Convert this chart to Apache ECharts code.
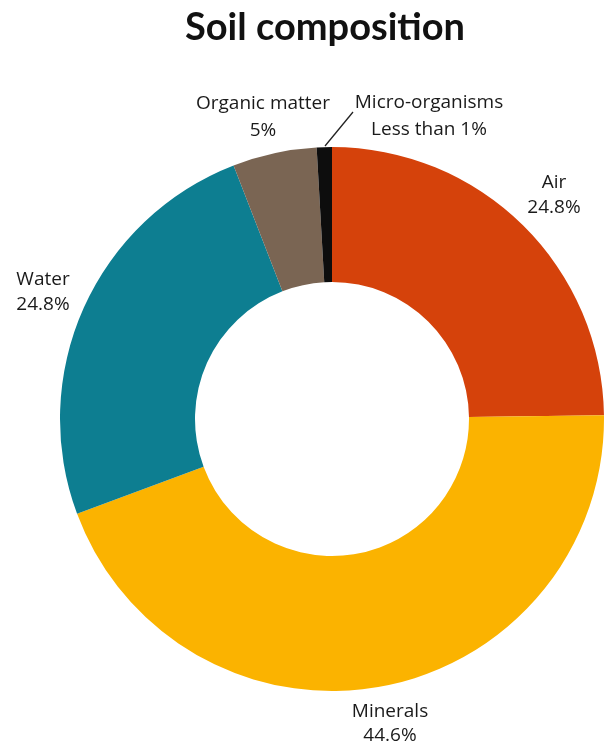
<!DOCTYPE html>
<html>
<head>
<meta charset="utf-8">
<script src="https://cdn.jsdelivr.net/npm/echarts@6/dist/echarts.min.js"></script>
<style>
  html, body { margin: 0; padding: 0; background: #fff; }
  #chart { width: 605px; height: 747px; }
</style>
</head>
<body>
<div id="chart"></div>
<script>
// Dados do gráfico
const categories = ['Air', 'Minerals', 'Water', 'Organic matter', 'Micro-organisms']
const shares = [24.8, 44.6, 24.8, 5, 0.9]
const valueLabels = ['24.8%', '44.6%', '24.8%', '5%', 'Less than 1%']
const sliceColors = ['#D5420B', '#FBB300', '#0D7E91', '#7A6553', '#0D0D0D']

// Posições dos rótulos (centro do bloco de texto)
const labelPos = [
  [554, 195],
  [390, 724],
  [43, 292],
  [263, 117],
  [429, 116]
]
const lineHeights = [25, 24, 25, 27, 27]

const chart = echarts.init(document.getElementById('chart'))

const option = {
  animation: false,
  title: {
    text: 'Soil composition',
    left: 320,
    textAlign: 'center',
    top: 4,
    textStyle: {
      fontFamily: 'Lato',
      fontWeight: 'bold',
      fontSize: 38,
      color: '#111'
    }
  },
  series: [{
    type: 'pie',
    center: [332, 419],
    radius: [137, 272],
    startAngle: 90,
    clockwise: true,
    avoidLabelOverlap: false,
    itemStyle: { borderWidth: 0 },
    label: {
      show: true,
      fontFamily: 'Open Sans',
      fontSize: 19,
      color: '#1a1a1a',
      align: 'center'
    },
    labelLine: { show: false },
    labelLayout: function (params) {
      const p = labelPos[params.dataIndex]
      const out = { x: p[0], y: p[1], align: 'center', verticalAlign: 'middle' }
      if (params.dataIndex === 4) {
        out.labelLinePoints = [[325, 146], [339, 129], [353, 112]]
      }
      return out
    },
    data: categories.map((name, i) => ({
      name: name,
      value: shares[i],
      itemStyle: { color: sliceColors[i] },
      label: {
        formatter: name + '\n' + valueLabels[i],
        lineHeight: lineHeights[i]
      },
      labelLine: i === 4
        ? { show: true, lineStyle: { color: '#222', width: 1.3 } }
        : { show: false }
    }))
  }]
}

chart.setOption(option)
</script>
</body>
</html>
